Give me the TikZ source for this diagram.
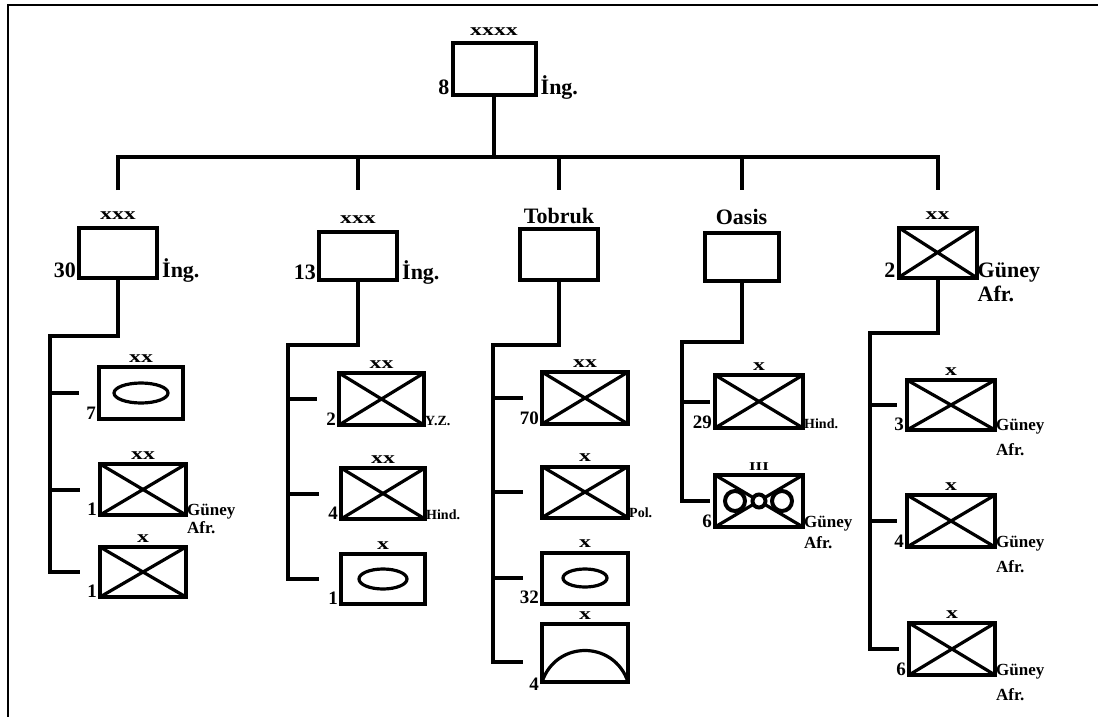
\documentclass[tikz,border=0pt]{standalone}
\usepackage{fontspec}
\setmainfont{Liberation Serif}
\newcommand{\echx}[1]{\scalebox{1.4}[1]{#1}}
\newcommand{\twoline}[2]{\begin{tabular}[t]{@{}l@{}}#1\\#2\end{tabular}}
\begin{document}
\begin{tikzpicture}[x=1pt,y=-1pt,
  conn/.style={line width=4pt},
  unitbox/.style={draw, line width=4pt, inner sep=0pt, outer sep=0pt},
  hq/.style={unitbox, minimum width=78pt, minimum height=50pt},
  sub/.style={unitbox, minimum width=86pt, minimum height=51pt},
  inf/.style={path picture={\draw[line width=3.2pt] (path picture bounding box.north west) -- (path picture bounding box.south east) (path picture bounding box.south west) -- (path picture bounding box.north east);}},
  big/.style={font=\fontsize{22}{24}\selectfont\bfseries, inner sep=0pt},
  med/.style={font=\fontsize{19}{20}\selectfont\bfseries, inner sep=0pt},
  sml/.style={font=\fontsize{14}{16}\selectfont\bfseries, inner sep=0pt},
  ech/.style={font=\fontsize{17}{17}\selectfont\bfseries, inner sep=0pt, anchor=base},
  lft/.style={anchor=base east, xshift=-3pt},
  rgt/.style={anchor=base west, xshift=1pt},
  rgtb/.style={anchor=base west, xshift=5pt},
  sym/.style={line width=3.2pt},
]
\useasboundingbox (0,0) rectangle (1098,717);
\draw[line width=2.5pt] (8,717) -- (8,5) -- (1098,5);

% ---------- top
\node[hq, minimum width=83pt, minimum height=51pt] (top) at (494,69) {};
\node[ech] at ([yshift=8pt]top.north) {\echx{xxxx}};
\node[big, lft] at (top.south west) {8};
\node[big, rgtb] at (top.south east) {İng.};

% ---------- heads
\node[hq] (h1) at (118,252.5) {};
\node[ech] at ([yshift=8pt]h1.north) {\echx{xxx}};
\node[big, lft] at (h1.south west) {30};
\node[big, rgtb] at (h1.south east) {İng.};

\node[hq, minimum height=48pt] (h2) at (358,255.5) {};
\node[ech] at ([yshift=8pt]h2.north) {\echx{xxx}};
\node[big, lft] at (h2.south west) {13};
\node[big, rgtb] at (h2.south east) {İng.};

\node[hq, minimum height=51pt] (h3) at (559,254) {};
\node[big, anchor=base] at ([yshift=5pt]h3.north) {Tobruk};

\node[hq, minimum width=74pt, minimum height=48pt] (h4) at (741.5,256.5) {};
\node[big, anchor=base] at ([yshift=8pt]h4.north) {Oasis};

\node[hq, inf] (h5) at (937.5,252.5) {};
\node[ech] at ([yshift=8pt]h5.north) {\echx{xx}};
\node[big, lft] at (h5.south west) {2};
\node[font=\fontsize{22}{24}\selectfont\bfseries, inner sep=0pt, rgt] at (h5.south east) {\twoline{Güney}{Afr.}};

% ---------- bus
\coordinate (bus) at (0,157);
\coordinate (dr) at (0,190);
\draw[conn] (top.south) -- (top.south |- bus);
\draw[conn] (h1.north |- dr) -- (h1.north |- bus) -- (h5.north |- bus) -- (h5.north |- dr);
\draw[conn] (h2.north |- bus) -- (h2.north |- dr);
\draw[conn] (h3.north |- bus) -- (h3.north |- dr);
\draw[conn] (h4.north |- bus) -- (h4.north |- dr);

% ---------- column 1
\node[sub, minimum width=84pt, minimum height=52pt] (s11) at (141,393) {};
\draw[sym] (s11.center) ellipse [x radius=27, y radius=10];
\node[ech] at ([yshift=5pt]s11.north) {\echx{xx}};
\node[med, lft] at (s11.south west) {7};

\node[sub, inf] (s12) at (143,489.5) {};
\node[ech] at ([yshift=5pt]s12.north) {\echx{xx}};
\node[med, lft] at (s12.south west) {1};
\node[font=\fontsize{17}{18}\selectfont\bfseries, inner sep=0pt, rgt] at (s12.south east) {\twoline{Güney}{Afr.}};

\node[sub, inf, minimum height=50pt] (s13) at (143,572) {};
\node[ech] at ([yshift=5pt]s13.north) {\echx{x}};
\node[med, lft] at (s13.south west) {1};

\coordinate (k1) at (50,336);
\draw[conn] (h1.south) |- (k1) -- (k1 |- s13.west) -- ([xshift=-20pt]s13.west);
\draw[conn] (k1 |- s11.west) -- ([xshift=-20pt]s11.west);
\draw[conn] (k1 |- s12.west) -- ([xshift=-20pt]s12.west);

% ---------- column 2
\node[sub, inf, minimum width=85pt, minimum height=52pt] (s21) at (381.5,399) {};
\node[ech] at ([yshift=5pt]s21.north) {\echx{xx}};
\node[med, lft] at (s21.south west) {2};
\node[sml, rgt] at (s21.south east) {Y.Z.};

\node[sub, inf, minimum width=84pt] (s22) at (383,493.5) {};
\node[ech] at ([yshift=5pt]s22.north) {\echx{xx}};
\node[med, lft] at (s22.south west) {4};
\node[sml, rgt] at (s22.south east) {Hind.};

\node[sub, minimum width=84pt, minimum height=50pt] (s23) at (383,579) {};
\draw[sym] (s23.center) ellipse [x radius=24, y radius=10];
\node[ech] at ([yshift=5pt]s23.north) {\echx{x}};
\node[med, lft] at (s23.south west) {1};

\coordinate (k2) at (288,345);
\draw[conn] (h2.south) |- (k2) -- (k2 |- s23.west) -- ([xshift=-22pt]s23.west);
\draw[conn] (k2 |- s21.west) -- ([xshift=-22pt]s21.west);
\draw[conn] (k2 |- s22.west) -- ([xshift=-22pt]s22.west);

% ---------- column 3
\node[sub, inf, minimum height=52pt] (s31) at (585,398) {};
\node[ech] at ([yshift=5pt]s31.north) {\echx{xx}};
\node[med, lft] at (s31.south west) {70};

\node[sub, inf] (s32) at (585,492) {};
\node[ech] at ([yshift=5pt]s32.north) {\echx{x}};
\node[sml, rgt] at (s32.south east) {Pol.};

\node[sub] (s33) at (585,578) {};
\draw[sym] (s33.center) ellipse [x radius=22, y radius=9];
\node[ech] at ([yshift=5pt]s33.north) {\echx{x}};
\node[med, lft] at (s33.south west) {32};

\node[sub, minimum height=58pt] (s34) at (585,653) {};
\draw[sym] (s34.south west) .. controls +(14,-42) and +(-14,-42) .. (s34.south east);
\node[ech] at ([yshift=5pt]s34.north) {\echx{x}};
\node[med, lft, yshift=-8pt] at (s34.south west) {4};

\coordinate (k3) at (493,345);
\coordinate (t34) at ([xshift=-19pt,yshift=-9pt]s34.west);
\draw[conn] (h3.south) |- (k3) -- (k3 |- t34) -- (t34);
\draw[conn] (k3 |- s31.west) -- ([xshift=-19pt]s31.west);
\draw[conn] (k3 |- s32.west) -- ([xshift=-19pt]s32.west);
\draw[conn] (k3 |- s33.west) -- ([xshift=-19pt]s33.west);

% ---------- column 4
\node[sub, inf, minimum width=88pt, minimum height=53pt] (s41) at (759,401.5) {};
\node[ech] at ([yshift=5pt]s41.north) {\echx{x}};
\node[med, lft] at (s41.south west) {29};
\node[sml, rgt] at (s41.south east) {Hind.};

\node[sub, inf, minimum width=88pt, minimum height=52pt] (s42) at (759,501) {};
\draw[line width=4pt, fill=white] ([xshift=-24pt]s42.center) circle [radius=10];
\draw[line width=4pt, fill=white] (s42.center) circle [radius=6.5];
\draw[line width=4pt, fill=white] ([xshift=23pt]s42.center) circle [radius=10];
\node[font=\fontsize{12}{12}\selectfont\bfseries, inner sep=0pt, anchor=base] at ([yshift=5pt]s42.north) {\echx{III}};
\node[med, lft] at (s42.south west) {6};
\node[font=\fontsize{17}{21}\selectfont\bfseries, inner sep=0pt, rgt] at (s42.south east) {\twoline{Güney}{Afr.}};

\coordinate (k4) at (682,342);
\draw[conn] (h4.south) |- (k4) -- (k4 |- s42.west) -- ([xshift=-5pt]s42.west);
\draw[conn] (k4 |- s41.west) -- ([xshift=-5pt]s41.west);

% ---------- column 5
\node[sub, inf, minimum width=88pt, minimum height=50pt] (s51) at (951,405) {};
\node[ech] at ([yshift=5pt]s51.north) {\echx{x}};
\node[med, lft] at (s51.south west) {3};
\node[font=\fontsize{17}{25}\selectfont\bfseries, inner sep=0pt, rgt] at (s51.south east) {\twoline{Güney}{Afr.}};

\node[sub, inf, minimum width=88pt, minimum height=52pt] (s52) at (951,521) {};
\node[ech] at ([yshift=5pt]s52.north) {\echx{x}};
\node[med, lft] at (s52.south west) {4};
\node[font=\fontsize{17}{25}\selectfont\bfseries, inner sep=0pt, rgt] at (s52.south east) {\twoline{Güney}{Afr.}};

\node[sub, inf, minimum width=86pt, minimum height=52pt] (s53) at (952,649) {};
\node[ech] at ([yshift=5pt]s53.north) {\echx{x}};
\node[med, lft] at (s53.south west) {6};
\node[font=\fontsize{17}{25}\selectfont\bfseries, inner sep=0pt, rgt] at (s53.south east) {\twoline{Güney}{Afr.}};

\coordinate (k5) at (870,333);
\draw[conn] (h5.south) |- (k5) -- (k5 |- s53.west) -- ([xshift=-10pt]s53.west);
\draw[conn] (k5 |- s51.west) -- ([xshift=-10pt]s51.west);
\draw[conn] (k5 |- s52.west) -- ([xshift=-10pt]s52.west);
\end{tikzpicture}
\end{document}
